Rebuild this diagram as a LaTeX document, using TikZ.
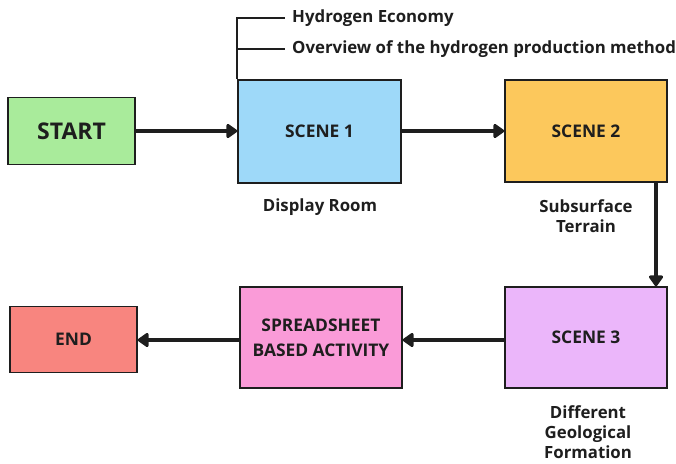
\documentclass[tikz,border=0pt]{standalone}
\usepackage{fontspec}
\setmainfont{Open Sans}
\usetikzlibrary{arrows.meta}
\definecolor{ink}{HTML}{1E1E1E}
\definecolor{cstart}{HTML}{A9EB9B}
\definecolor{cone}{HTML}{9ED9F9}
\definecolor{ctwo}{HTML}{FCC85C}
\definecolor{cthree}{HTML}{EBB6FA}
\definecolor{csheet}{HTML}{FA9BD8}
\definecolor{cend}{HTML}{F8857F}
\tikzset{
  box/.style={draw=ink, line width=1.6pt, text=ink, align=center, inner sep=0pt,
    font=\bfseries\fontsize{17.4}{25}\selectfont},
  bigbox/.style={box, font=\bfseries\fontsize{23}{26}\selectfont},
  flow/.style={draw=ink, line width=3.2pt, -{Triangle[length=12pt,width=16pt,round]}},
  brk/.style={draw=ink, line width=2.2pt},
  lbl/.style={text=ink, align=center, font=\bfseries\fontsize{16.8}{20}\selectfont, inner sep=0pt},
}
\begin{document}
\begin{tikzpicture}[x=1pt,y=-1pt]
\useasboundingbox (0,0) rectangle (676,463);
\node[bigbox, fill=cstart, minimum width=127, minimum height=67] (start) at (71.5,131) {START};
\node[box, fill=cone, minimum width=163, minimum height=103] (s1) at (319.5,131.5) {SCENE 1};
\node[box, fill=ctwo, minimum width=162, minimum height=102] (s2) at (586,131) {SCENE 2};
\node[box, fill=cthree, minimum width=162, minimum height=101] (s3) at (586,337.5) {SCENE 3};
\node[box, fill=csheet, minimum width=162, minimum height=101] (sheet) at (321,337.5) {SPREADSHEET\\BASED ACTIVITY};
\node[box, fill=cend, minimum width=127, minimum height=66] (end) at (73.5,339.5) {END};

\node[lbl, anchor=west] (h1) at (292,18) {Hydrogen Economy};
\node[lbl, anchor=west] (h2) at (292,49) {Overview of the hydrogen production method};
\node[lbl] (d1) at (320,207) {Display Room};
\node[lbl] (d2) at (586,216) {Subsurface\\Terrain};
\node[lbl] (d3) at (588,432) {Different\\Geological\\Formation};

\draw[brk] (s1.north west) |- ([xshift=-7pt]h1.west);
\draw[brk] (s1.north west |- h2.west) -- ([xshift=-7pt]h2.west);

\draw[flow] (start.east |- 0,131) -- (s1.west |- 0,131);
\draw[flow] (s1.east |- 0,131) -- (s2.west |- 0,131);
\draw[flow] ([xshift=70pt]s2.south) -- ([xshift=70pt]s3.north);
\draw[flow] (s3.west |- 0,340) -- (sheet.east |- 0,340);
\draw[flow] (sheet.west |- 0,340) -- (end.east |- 0,340);
\end{tikzpicture}
\end{document}
